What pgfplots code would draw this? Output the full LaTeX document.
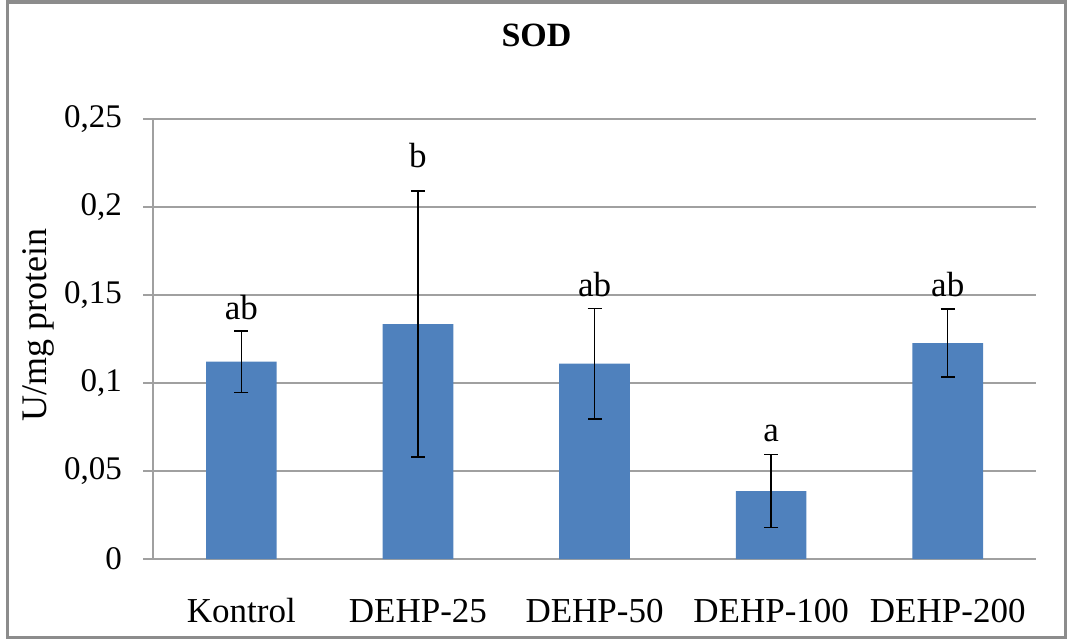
\documentclass[border=0pt]{standalone}
\usepackage{fontspec}
\setmainfont{Liberation Serif}
\usepackage{pgfplots}
\pgfplotsset{compat=1.18}
\usepackage{pgfplotstable}
\definecolor{barblue}{HTML}{4F81BD}
\definecolor{gridgray}{HTML}{A0A0A0}
\definecolor{framegray}{HTML}{8C8C8C}

\pgfplotstableread{
x y err laby lab
0 0.1121 0.0174 0.1358 ab
1 0.1335 0.0756 0.2222 b
2 0.1110 0.0315 0.1489 ab
3 0.0386 0.0208 0.0665 a
4 0.1227 0.0193 0.1489 ab
}\sod

\begin{document}
\begin{tikzpicture}
\begin{axis}[
  width=441.5pt, height=220pt, scale only axis,
  xmin=-0.5, xmax=4.5, ymin=0, ymax=0.25,
  axis x line*=bottom, axis y line*=left,
  axis line style={gridgray, line width=0.75pt, -},
  xtick={0,1,2,3,4},
  xticklabels={Kontrol,DEHP-25,DEHP-50,DEHP-100,DEHP-200},
  x tick style={draw=none},
  ytick={0,0.05,0.1,0.15,0.2,0.25},
  ymajorgrids, grid style={gridgray, line width=0.75pt},
  y tick style={gridgray, line width=0.75pt},
  tick align=outside, major tick length=5pt,
  yticklabel style={/pgf/number format/use comma, /pgf/number format/fixed,
    /pgf/number format/assume math mode=true,
    font=\fontsize{16.5pt}{19pt}\selectfont, anchor=east, xshift=-7pt},
  xticklabel style={font=\fontsize{17.5pt}{20pt}\selectfont, anchor=base, yshift=-26.5pt},
  ylabel={U/mg protein},
  ylabel style={font=\fontsize{18pt}{21pt}\selectfont, at={(axis description cs:-0.1302,0.532)}, anchor=center},
  title={SOD},
  title style={font=\bfseries\fontsize{17pt}{19pt}\selectfont, at={(axis description cs:0.4343,1.1386)}, anchor=base},
  clip=false,
]
\addplot[ybar, bar width=0.4, fill=barblue, draw=none,
  error bars/.cd, y dir=both, y explicit,
  error bar style={black, line width=0.7pt},
  error mark options={rotate=90, black, mark size=3.5pt, line width=0.7pt}]
  table[x=x, y=y, y error=err] {\sod};
\addplot[draw=none, mark=none, nodes near coords, point meta=explicit symbolic,
  every node near coord/.append style={anchor=base, inner sep=0pt, font=\fontsize{17.5pt}{20pt}\selectfont}]
  table[x=x, y=laby, meta=lab] {\sod};
\coordinate (frbl) at (rel axis cs:-0.1653,-0.1795);
\coordinate (frtr) at (rel axis cs:1.0328,1.2659);
\coordinate (bbbl) at (rel axis cs:-0.1733,-0.18864);
\coordinate (bbtr) at (rel axis cs:1.0362,1.27045);
\end{axis}
\draw[framegray, line width=1.5pt] (frbl) rectangle (frtr);
\path[use as bounding box] (bbbl) rectangle (bbtr);
\end{tikzpicture}
\end{document}
